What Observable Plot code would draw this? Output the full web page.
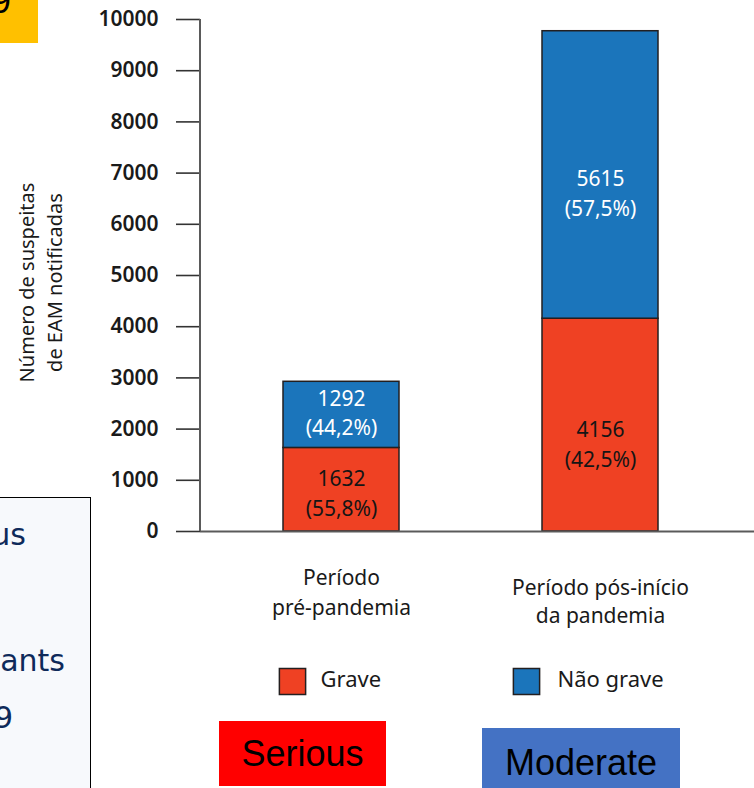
<!DOCTYPE html>
<html>
<head>
<meta charset="utf-8">
<script src="https://cdn.jsdelivr.net/npm/d3@7"></script>
<script src="https://cdn.jsdelivr.net/npm/@observablehq/plot@0.6"></script>
<style>
  html, body { margin: 0; padding: 0; background: #fff; }
  #page { position: relative; width: 754px; height: 788px; overflow: hidden; background: #fff; }
  #chart { position: absolute; left: 0; top: 0; }
  .yellow { position: absolute; left: 0; top: 0; width: 38px; height: 43px; background: #FFC000; overflow: hidden; }
  .yellow span { position: absolute; right: 27px; top: -17.5px; font: 36px/1 "Liberation Sans", Arial, sans-serif; color: #000; white-space: nowrap; }
  .notebox { position: absolute; left: -10px; top: 497px; width: 99px; height: 320px; background: #F7F9FC; border: 1.5px solid #000; }
  .cut { position: absolute; font: 30px/1 "DejaVu Sans", sans-serif; color: #0E2A5A; white-space: nowrap; }
  .tag { position: absolute; display: flex; align-items: center; justify-content: center; font: 36px "Liberation Sans", Arial, sans-serif; color: #000; box-sizing: border-box; }
</style>
</head>
<body>
<div id="page">
  <div id="chart"></div>
  <div class="yellow"><span>9</span></div>
  <div class="notebox"></div>
  <span class="cut" style="right: 728px; top: 519.6px;">us</span>
  <span class="cut" style="right: 689px; top: 645.6px;">ants</span>
  <span class="cut" style="right: 741px; top: 702.6px;">9</span>
  <div class="tag" style="left:219px; top:721px; width:167px; height:65px; background:#FF0000;">Serious</div>
  <div class="tag" style="left:482px; top:728px; width:198px; height:62px; background:#4472C4; padding-top:8px;">Moderate</div>
</div>
<script>
// ---- data ----
const periods = ["Período pré-pandemia", "Período pós-início da pandemia"];
const periodLabels = ["Período\npré-pandemia", "Período pós-início\nda pandemia"];
const severities = ["Grave", "Não grave"];
const grave = [1632, 4156];
const naoGrave = [1292, 5615];
const yTicks = [0, 1000, 2000, 3000, 4000, 5000, 6000, 7000, 8000, 9000, 10000];
const yTitle = ["Número de suspeitas", "de EAM notificadas"];

// ---- derived tables ----
const rows = periods.flatMap((p, i) => [
  {period: p, severity: severities[0], value: grave[i]},
  {period: p, severity: severities[1], value: naoGrave[i]}
]);
const pct = (v, t) => (v / t * 100).toFixed(1).replace(".", ",") + "%";
const labels = periods.flatMap((p, i) => {
  const total = grave[i] + naoGrave[i];
  return [
    {period: p, severity: severities[0], i, mid: grave[i] / 2, text: `${grave[i]}\n(${pct(grave[i], total)})`},
    {period: p, severity: severities[1], i, mid: grave[i] + naoGrave[i] / 2, text: `${naoGrave[i]}\n(${pct(naoGrave[i], total)})`}
  ];
});
const legendRows = severities.map((s, i) => ({severity: s, period: periods[i]}));

const colors = ["#EF4123", "#1B75BB"];
const font = "Noto Sans";

function labelMark(i, sev, dy) {
  return Plot.text(labels.filter(d => d.i === i && d.severity === sev), {
    x: "period", y: "mid", text: "text", dy,
    fill: sev === severities[0] ? "#151515" : "#ffffff",
    fontSize: 21, lineHeight: 1.4, lineAnchor: "middle"
  });
}

const yAxisLine = (index, scales, values, dimensions) => {
  const l = d3.create("svg:line")
    .attr("x1", dimensions.marginLeft).attr("x2", dimensions.marginLeft)
    .attr("y1", scales.y(0)).attr("y2", scales.y(10000))
    .attr("stroke", "#5a5a5a").attr("stroke-width", 2);
  return l.node();
};

const chart = Plot.plot({
  width: 754,
  height: 788,
  marginLeft: 200,
  marginRight: 0,
  marginTop: 19,
  marginBottom: 257,
  style: {fontFamily: font, background: "transparent"},
  x: {type: "band", domain: periods, paddingInner: 0.5538, paddingOuter: 0.3423, align: 0.4607, axis: null},
  y: {domain: [0, 10000], axis: null},
  color: {domain: severities, range: colors},
  marks: [
    Plot.barY(rows, {x: "period", y: "value", fill: "severity", stroke: "#231f20", strokeWidth: 1.5}),
    Plot.axisY({ticks: yTicks, tickSize: 24, tickPadding: 18, tickFormat: "d", fontSize: 21, fontWeight: 600,
      fill: "#1a1a1a", stroke: "#333", strokeWidth: 1.6, label: null}),
    yAxisLine,
    Plot.ruleY([0], {stroke: "#5a5a5a", strokeWidth: 2}),
    labelMark(0, severities[0], 2),
    labelMark(0, severities[1], -4),
    labelMark(1, severities[0], 17.5),
    labelMark(1, severities[1], 16.5),
    Plot.text([periods[0]], {x: d => d, text: () => periodLabels[0], frameAnchor: "bottom", dy: 58.5,
      fontSize: 21, lineHeight: 1.43, lineAnchor: "middle", fill: "#1a1a1a"}),
    Plot.text([periods[1]], {x: d => d, text: () => periodLabels[1], frameAnchor: "bottom", dy: 68.5,
      fontSize: 21, lineHeight: 1.36, lineAnchor: "middle", fill: "#1a1a1a"}),
    // legend
    Plot.dot([legendRows[0]], {x: "period", fill: "severity", symbol: "square", r: 14.8, frameAnchor: "bottom",
      dx: -49, dy: 150, stroke: "#231f20", strokeWidth: 1.5}),
    Plot.text([legendRows[0]], {x: "period", text: "severity", frameAnchor: "bottom", textAnchor: "start",
      dx: -21, dy: 155, fontSize: 22, fill: "#1a1a1a"}),
    Plot.dot([legendRows[1]], {x: "period", fill: "severity", symbol: "square", r: 14.8, frameAnchor: "bottom",
      dx: -74, dy: 150, stroke: "#231f20", strokeWidth: 1.5}),
    Plot.text([legendRows[1]], {x: "period", text: "severity", frameAnchor: "bottom", textAnchor: "start",
      dx: -43, dy: 155, fontSize: 22, fill: "#1a1a1a"}),
    // y title
    Plot.text([yTitle.join("\n")], {frameAnchor: "left", textAnchor: "middle", rotate: -90, dx: -161.5, dy: 7,
      fontSize: 20, lineHeight: 1.42, lineAnchor: "middle", fill: "#1a1a1a"})
  ]
});
document.getElementById("chart").appendChild(chart);
</script>
</body>
</html>
